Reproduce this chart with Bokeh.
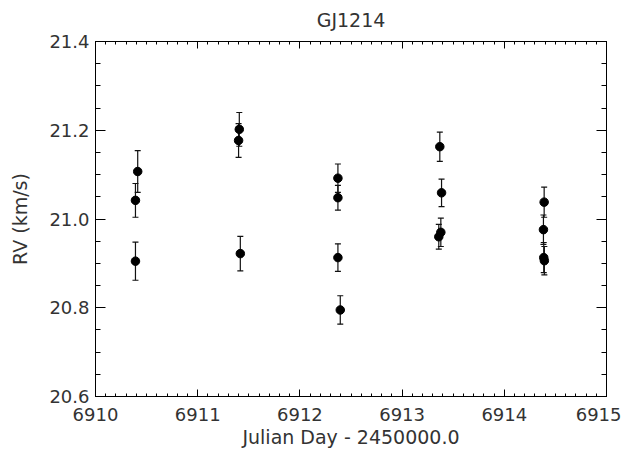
import numpy as np
from bokeh.plotting import figure
from bokeh.models import (ColumnDataSource, Whisker, TeeHead, LinearAxis, Range1d,
                          FixedTicker, PrintfTickFormatter, CustomLabelingPolicy)
from bokeh.embed import file_html
from bokeh.resources import INLINE

# Data
jd = [6910.413, 6910.391, 6910.391,
      6911.407, 6911.400, 6911.417,
      6912.372, 6912.372, 6912.372, 6912.395,
      6913.369, 6913.386, 6913.379, 6913.359,
      6914.390, 6914.383, 6914.386, 6914.392]
rv = [21.107, 21.042, 20.905,
      21.202, 21.177, 20.922,
      21.092, 21.048, 20.913, 20.795,
      21.163, 21.059, 20.970, 20.960,
      21.038, 20.976, 20.913, 20.906]
rv_err = [0.047, 0.038, 0.043,
          0.038, 0.038, 0.039,
          0.032, 0.028, 0.031, 0.032,
          0.033, 0.031, 0.032, 0.028,
          0.034, 0.033, 0.034, 0.032]

x_ticks = [6910, 6911, 6912, 6913, 6914, 6915]
y_ticks = [20.6, 20.8, 21.0, 21.2, 21.4]
x_minor = [round(v, 3) for v in np.arange(6910, 6915.0001, 0.1)]
y_minor = [round(v, 3) for v in np.arange(20.6, 21.4001, 0.05)]

title_text = "GJ1214"
x_label = "Julian Day - 2450000.0"
y_label = "RV (km/s)"

src = ColumnDataSource(dict(
    x=jd, y=rv,
    lo=[v - e for v, e in zip(rv, rv_err)],
    hi=[v + e for v, e in zip(rv, rv_err)],
))

FONT = "DejaVu Sans"
TXT = "#333333"

p = figure(width=621, height=450, output_backend="svg", toolbar_location=None,
           x_range=Range1d(6910, 6915), y_range=Range1d(20.6, 21.4),
           x_axis_location=None, y_axis_location=None,
           min_border_left=95, min_border_right=15, min_border_top=41, min_border_bottom=52)

p.title.text = title_text
p.title.align = "center"
p.title.text_font = FONT
p.title.text_font_size = "19px"
p.title.text_font_style = "normal"
p.title.text_color = TXT
p.title.standoff = 12

p.grid.visible = False
p.outline_line_color = "black"
p.outline_line_width = 1
p.background_fill_color = "white"
p.border_fill_color = "white"

hide_labels = CustomLabelingPolicy(code="""
for (const i of indices)
    indices.unset(i)
""")

def make_axis(ticks, minor, tick_len, labels, label_text, fmt=None):
    ax = LinearAxis(ticker=FixedTicker(ticks=ticks, minor_ticks=minor))
    ax.major_tick_in = tick_len
    ax.major_tick_out = 0
    ax.minor_tick_in = tick_len // 2
    ax.minor_tick_out = 0
    ax.axis_line_color = "black"
    ax.major_tick_line_color = "black"
    ax.minor_tick_line_color = "black"
    ax.major_label_text_font = FONT
    ax.major_label_text_color = TXT
    if fmt:
        ax.formatter = fmt
    if labels:
        ax.major_label_text_font_size = "18px"
    else:
        ax.major_label_text_font_size = "2px"
        ax.major_label_standoff = 0
        ax.major_label_policy = hide_labels
    if label_text:
        ax.axis_label = label_text
        ax.axis_label_text_font = FONT
        ax.axis_label_text_font_size = "19px"
        ax.axis_label_text_font_style = "normal"
        ax.axis_label_text_color = TXT
    return ax

xb = make_axis(x_ticks, x_minor, 7, True, x_label)
xb.major_label_standoff = 11
xb.axis_label_standoff = 2
xt = make_axis(x_ticks, x_minor, 7, False, None)
yl = make_axis(y_ticks, y_minor, 10, True, y_label, PrintfTickFormatter(format="%.1f"))
yl.major_label_standoff = 6
yl.axis_label_standoff = 15
yr = make_axis(y_ticks, y_minor, 10, False, None, PrintfTickFormatter(format="%.1f"))

p.add_layout(xb, "below")
p.add_layout(xt, "above")
p.add_layout(yl, "left")
p.add_layout(yr, "right")

p.add_layout(Whisker(source=src, base="x", lower="lo", upper="hi", dimension="height",
                     line_color="#111111", line_width=1.2,
                     upper_head=TeeHead(size=6, line_color="#111111", line_width=1.2),
                     lower_head=TeeHead(size=6, line_color="#111111", line_width=1.2)))
p.scatter("x", "y", source=src, size=8.5, marker="circle", fill_color="black", line_color="black")

open("out.html", "w").write(file_html(p, INLINE))
